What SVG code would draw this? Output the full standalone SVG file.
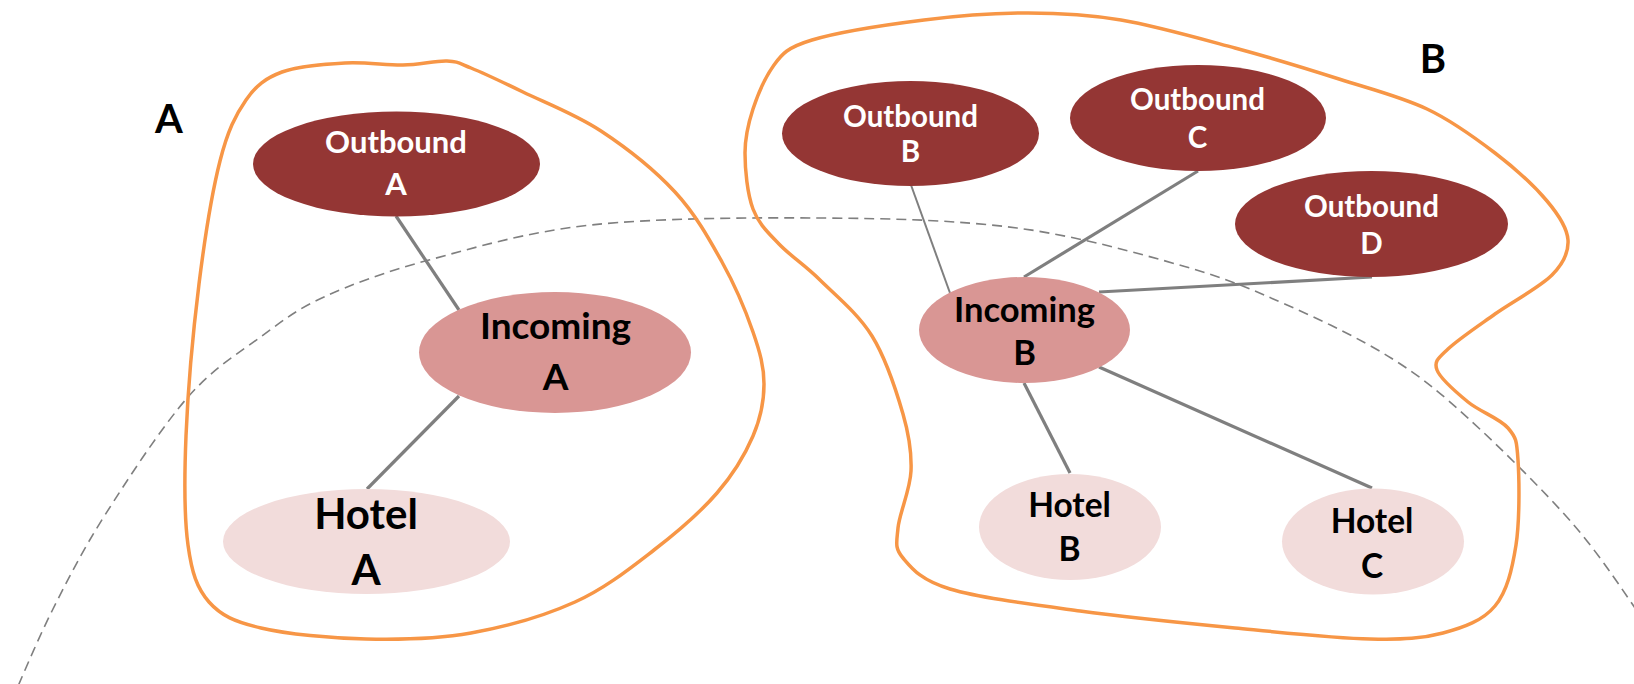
<svg xmlns="http://www.w3.org/2000/svg" width="1634" height="684" viewBox="0 0 1634 684">
  <style>
    .region { fill: none; stroke: #f79646; stroke-width: 3.5; }
    .horizon { fill: none; stroke: #7f7f7f; stroke-width: 1.6; stroke-dasharray: 10 6; }
    .link { stroke: #7f7f7f; stroke-width: 3.2; fill: none; }
    .link.thin { stroke-width: 2; }
    .outbound { fill: #943634; }
    .incoming { fill: #d99694; }
    .hotel { fill: #f2dcdb; }
    text { font-family: Lato, "Liberation Sans", sans-serif; font-weight: bold; text-anchor: middle; }
    .light { fill: #ffffff; }
    .dark { fill: #000000; }
  </style>
  <rect width="1634" height="684" fill="#ffffff"/>

  <!-- dashed horizon arc -->
  <path class="horizon" d="M 12,700 C 18.7,685.2 36.5,641.8 52,611 C 67.5,580.2 82.3,550.7 105,515 C 127.7,479.3 161.8,426.8 188,397 C 214.2,367.2 239.3,352.7 262,336 C 284.7,319.3 296.2,309.7 324,297 C 351.8,284.3 384.5,272 429,260 C 473.5,248 525.8,232 591,225 C 656.2,218 749,217.5 820,218 C 891,218.5 956.5,220 1017,228 C 1077.5,236 1138,253.2 1183,266 C 1228,278.8 1252.3,289.7 1287,305 C 1321.7,320.3 1360.7,339 1391,358 C 1421.3,377 1438.7,391.3 1469,419 C 1499.3,446.7 1544.5,491.3 1573,524 C 1601.5,556.7 1628.8,599.8 1640,615"/>

  <!-- region outlines -->
  <g id="region-a">
    <path class="region" d="M 282,72 C 298.5,65.8 324.8,64.2 345,63 C 365.2,61.8 386,65.3 403,65 C 420,64.7 435.7,60.5 447,61 C 458.3,61.5 458.3,62.8 471,68 C 483.7,73.2 501.3,81.5 523,92 C 544.7,102.5 575.7,114.3 601,131 C 626.3,147.7 654.8,170.2 675,192 C 695.2,213.8 709,238.7 722,262 C 735,285.3 746,311.7 753,332 C 760,352.3 764,366.7 764,384 C 764,401.3 760.8,417.8 753,436 C 745.2,454.2 733.5,474 717,493 C 700.5,512 677.7,531.8 654,550 C 630.3,568.2 605.5,588.2 575,602 C 544.5,615.8 505.8,626.8 471,633 C 436.2,639.2 401,639.8 366,639 C 331,638.2 287.2,634.2 261,628 C 234.8,621.8 221.2,615.8 209,602 C 196.8,588.2 191.8,572.7 188,545 C 184.2,517.3 184.2,479.5 186,436 C 187.8,392.5 193.3,329.8 199,284 C 204.7,238.2 212.2,191.7 220,161 C 227.8,130.3 235.7,114.8 246,100 C 256.3,85.2 265.5,78.2 282,72 Z"/>
    <text class="dark" x="169" y="133" font-size="40">A</text>
  </g>
  <g id="region-b">
    <path class="region" d="M 812,40 C 837,32.5 888,24.5 924,20 C 960,15.5 995.2,13 1028,13 C 1060.8,13 1086.5,14.2 1121,20 C 1155.5,25.8 1198.7,38.2 1235,48 C 1271.3,57.8 1307,68.8 1339,79 C 1371,89.2 1401,96.7 1427,109 C 1453,121.3 1475,137.7 1495,153 C 1515,168.3 1534.8,186.5 1547,201 C 1559.2,215.5 1567.2,227.7 1568,240 C 1568.8,252.3 1564.2,262.7 1552,275 C 1539.8,287.3 1512.3,301.7 1495,314 C 1477.7,326.3 1457.7,339.7 1448,349 C 1438.3,358.3 1433.7,361.2 1437,370 C 1440.3,378.8 1456.2,392.3 1468,402 C 1479.8,411.7 1499.7,418.3 1508,428 C 1516.3,437.7 1516.7,440.5 1518,460 C 1519.3,479.5 1519.8,520.7 1516,545 C 1512.2,569 1507.2,591.3 1495,606 C 1482.8,620.7 1463.8,627.5 1443,633 C 1422.2,638.5 1404.7,639.8 1370,639 C 1335.3,638.2 1283.3,632.7 1235,628 C 1186.7,623.3 1127.5,617.5 1080,611 C 1032.5,604.5 979.5,597.8 950,589 C 920.5,580.2 911.7,568.2 903,558 C 894.3,547.8 896.7,542.5 898,528 C 899.3,513.5 910.2,490 911,471 C 911.8,452 909.5,436.5 903,414 C 896.5,391.5 885.8,358.3 872,336 C 858.2,313.7 835.5,295.3 820,280 C 804.5,264.7 790.2,255.8 779,244 C 767.8,232.2 758.7,224.2 753,209 C 747.3,193.8 745,169.7 745,153 C 745,136.3 748.2,123.7 753,109 C 757.8,94.3 766.2,75.8 774,65 C 781.8,54.2 787,47.5 812,40 Z"/>
    <text class="dark" x="1433" y="73" font-size="40">B</text>
  </g>

  <!-- connectors -->
  <g id="connectors">
    <line class="link" x1="396" y1="216" x2="459" y2="310"/>
    <line class="link" x1="459" y1="396" x2="367" y2="489"/>
    <line class="link thin" x1="911" y1="185" x2="950" y2="293"/>
    <line class="link" x1="1198" y1="171" x2="1024" y2="277"/>
    <line class="link" x1="1372" y1="277" x2="1099" y2="292" stroke-width="2.6"/>
    <line class="link" x1="1024" y1="383" x2="1070" y2="473"/>
    <line class="link" x1="1099" y1="367" x2="1372" y2="488"/>
  </g>

  <!-- nodes -->
  <g id="outbound-a">
    <ellipse class="outbound" cx="396.5" cy="164" rx="143.5" ry="52.5"/>
    <text class="light" x="396" y="153" font-size="31">Outbound</text>
    <text class="light" x="396" y="195" font-size="31">A</text>
  </g>
  <g id="incoming-a">
    <ellipse class="incoming" cx="555" cy="352.5" rx="136" ry="60.5"/>
    <text class="dark" x="555.5" y="339" font-size="37">Incoming</text>
    <text class="dark" x="555.5" y="390" font-size="37">A</text>
  </g>
  <g id="hotel-a">
    <ellipse class="hotel" cx="366.5" cy="541.5" rx="143.5" ry="52.5"/>
    <text class="dark" x="366" y="529" font-size="42">Hotel</text>
    <text class="dark" x="366" y="585" font-size="42">A</text>
  </g>
  <g id="outbound-b">
    <ellipse class="outbound" cx="910.5" cy="133.5" rx="128.5" ry="52.5"/>
    <text class="light" x="910.5" y="126.5" font-size="29.5">Outbound</text>
    <text class="light" x="910.5" y="162" font-size="29.5">B</text>
  </g>
  <g id="outbound-c">
    <ellipse class="outbound" cx="1198" cy="118" rx="128" ry="53"/>
    <text class="light" x="1197.5" y="110" font-size="29.5">Outbound</text>
    <text class="light" x="1197.5" y="148" font-size="29.5">C</text>
  </g>
  <g id="outbound-d">
    <ellipse class="outbound" cx="1371.5" cy="224" rx="136.5" ry="53"/>
    <text class="light" x="1371.5" y="217" font-size="29.5">Outbound</text>
    <text class="light" x="1371.5" y="254" font-size="29.5">D</text>
  </g>
  <g id="incoming-b">
    <ellipse class="incoming" cx="1024.5" cy="330" rx="105.5" ry="53"/>
    <text class="dark" x="1024.5" y="322" font-size="34.5">Incoming</text>
    <text class="dark" x="1024.5" y="365" font-size="34.5">B</text>
  </g>
  <g id="hotel-b">
    <ellipse class="hotel" cx="1070" cy="527" rx="91" ry="53"/>
    <text class="dark" x="1069.5" y="517" font-size="33.5">Hotel</text>
    <text class="dark" x="1069.5" y="561" font-size="33.5">B</text>
  </g>
  <g id="hotel-c">
    <ellipse class="hotel" cx="1373" cy="541.5" rx="91" ry="53"/>
    <text class="dark" x="1372" y="533" font-size="33.5">Hotel</text>
    <text class="dark" x="1372" y="578" font-size="33.5">C</text>
  </g>
</svg>
